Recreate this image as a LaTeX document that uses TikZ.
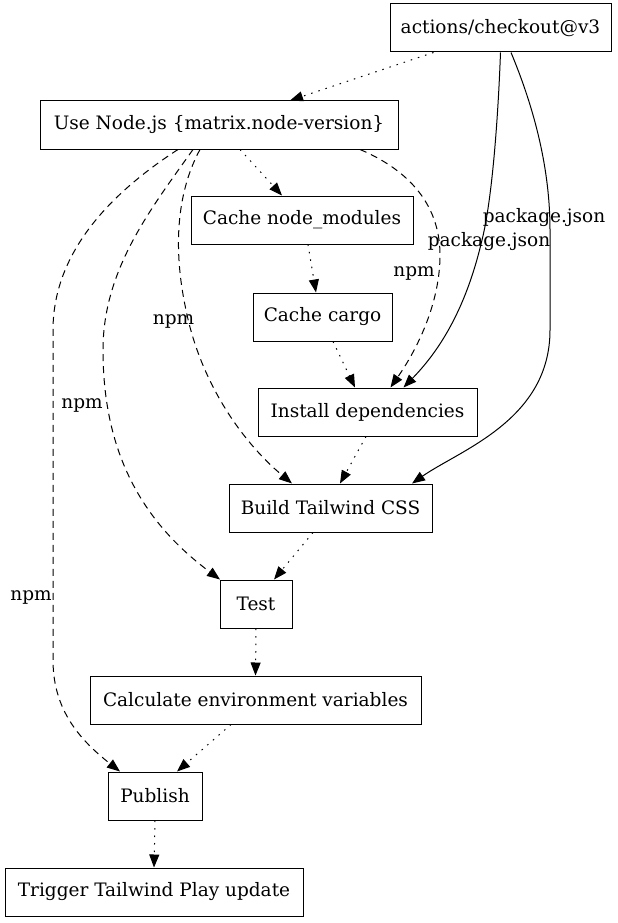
\documentclass[tikz,border=0pt]{standalone}
\usepackage{fontspec}
\setmainfont{DejaVu Serif}
\usetikzlibrary{arrows.meta,calc}
\begin{document}
\begin{tikzpicture}[x=1pt,y=-1pt,
  font=\fontsize{18.5}{22}\selectfont,
  box/.style={draw, line width=1pt, minimum height=48pt, inner sep=0pt, anchor=center},
  arr/.style={line width=1pt, -{Triangle[length=13pt,width=10pt]}},
  dotedge/.style={arr, dash pattern=on 1.5pt off 6pt},
  dashedge/.style={arr, dash pattern=on 7pt off 5pt},
  lbl/.style={inner sep=0pt, anchor=center}]
\useasboundingbox (0,0) rectangle (618,923);
\fill[white] (0,0) rectangle (618,923);

\node[box, minimum width=221pt] (checkout) at (500.5,28) {actions/checkout@v3};
\node[box, minimum width=358pt] (nodejs) at (219,125) {Use Node.js \{matrix.node-version\}};
\node[box, minimum width=222pt] (cnm) at (302,220) {Cache node\_modules};
\node[box, minimum width=139pt] (cargo) at (322.5,317) {Cache cargo};
\node[box, minimum width=219pt] (install) at (367.5,412) {Install dependencies};
\node[box, minimum width=203pt] (build) at (330.5,508) {Build Tailwind CSS};
\node[box, minimum width=72pt] (test) at (256,604) {Test};
\node[box, minimum width=331pt] (calc) at (255.5,700) {Calculate environment variables};
\node[box, minimum width=94pt] (publish) at (155,796) {Publish};
\node[box, minimum width=298pt] (trigger) at (154,892) {Trigger Tailwind Play update};

% dotted chain
\draw[dotedge] ($(checkout.south)+(-67,0)$) -- ($(nodejs.north)+(71,0)$);
\draw[dotedge] ($(nodejs.south)+(21,0)$) -- ($(cnm.north)+(-20,0)$);
\draw[dotedge] ($(cnm.south)+(6,0)$) -- ($(cargo.north)+(-6.5,0)$);
\draw[dotedge] ($(cargo.south)+(10.5,0)$) -- ($(install.north)+(-12.5,0)$);
\draw[dotedge] ($(install.south)+(-1.5,0)$) -- ($(build.north)+(9.5,0)$);
\draw[dotedge] ($(build.south)+(-17.5,0)$) -- ($(test.north)+(18,0)$);
\draw[dotedge] (test.south) -- (calc.north);
\draw[dotedge] ($(calc.south)+(-24.5,0)$) -- ($(publish.north)+(22,0)$);
\draw[dotedge] (publish.south) -- (trigger.north);

% dashed npm edges
\draw[dashedge] ($(nodejs.south)+(141,0)$) .. controls (420,175) and (440,215) .. (440,255)
  .. controls (440,300) and (420,345) .. ($(install.north)+(23,0)$);
\node[lbl] (npm1) at (414,273) {npm};

\draw[dashedge] ($(nodejs.south)+(-19,0)$) .. controls (178,190) and (172,245) .. (186,310)
  .. controls (200,380) and (240,440) .. ($(build.north)+(-38.5,0)$);
\node[lbl] (npm2) at (173.5,321) {npm};

\draw[dashedge] ($(nodejs.south)+(-26,0)$) .. controls (150,210) and (103,270) .. (103,350)
  .. controls (103,450) and (140,520) .. ($(test.north)+(-36,0)$);
\node[lbl] (npm3) at (82,405) {npm};

\draw[dashedge] ($(nodejs.south)+(-41,0)$) .. controls (100,200) and (53,260) .. (53,330)
  -- (53,660) .. controls (53,710) and (80,740) .. ($(publish.north)+(-35,0)$);
\node[lbl] (npm4) at (31,597) {npm};

% solid package.json edges
\draw[arr] (checkout.south) .. controls (498,120) and (492,200) .. (482,240)
  .. controls (468,300) and (445,345) .. ($(install.north)+(36,0)$);
\node[lbl] (pj1) at (489,242) {package.json};

\draw[arr] ($(checkout.south)+(10.5,0)$) .. controls (535,110) and (550,170) .. (550,230)
  -- (550,330) .. controls (550,420) and (460,450) .. ($(build.north)+(81.5,0)$);
\node[lbl] (pj2) at (544,218) {package.json};
\end{tikzpicture}
\end{document}
